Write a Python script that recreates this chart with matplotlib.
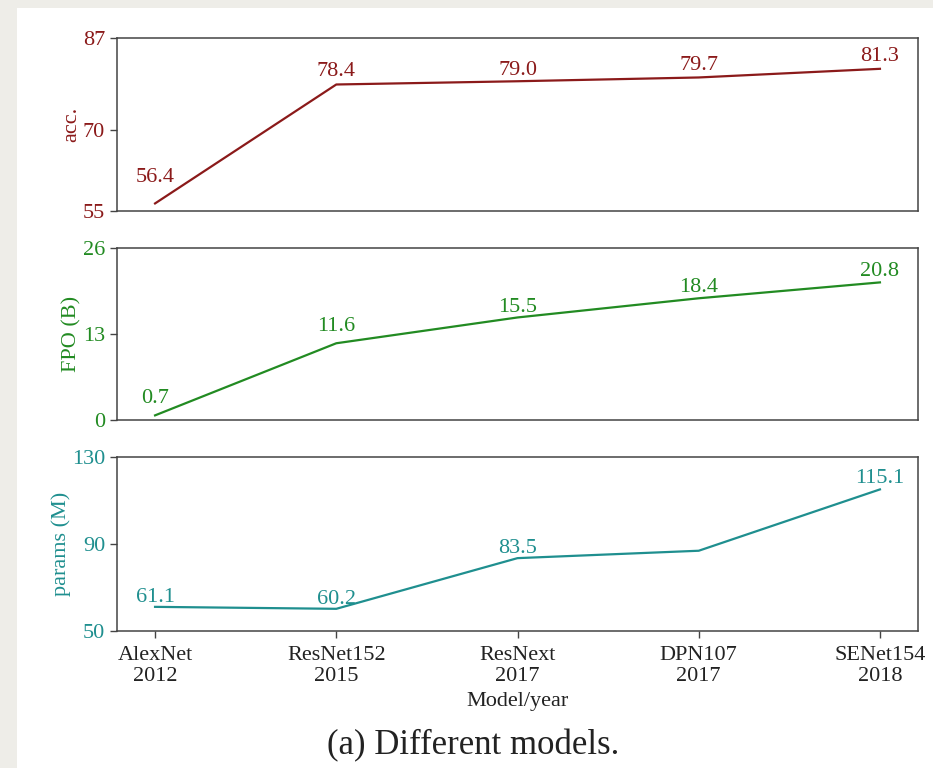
import matplotlib
matplotlib.use("Agg")
import matplotlib.pyplot as plt
from matplotlib.patches import Rectangle

plt.rcParams['font.family'] = ['Liberation Serif', 'DejaVu Serif']
plt.rcParams['font.size'] = 16

models = ['AlexNet\n2012', 'ResNet152\n2015', 'ResNext\n2017', 'DPN107\n2017', 'SENet154\n2018']
acc = [56.4, 78.4, 79.0, 79.7, 81.3]
fpo = [0.7, 11.6, 15.5, 18.4, 20.8]
params = [61.1, 60.2, 83.5, 86.9, 115.1]
params_shown = [True, True, True, False, True]

acc_ticks = [55, 70, 87]
fpo_ticks = [0, 13, 26]
params_ticks = [50, 90, 130]

c_acc = '#8b1a1a'
c_fpo = '#228b22'
c_par = '#1f8f8f'

fig = plt.figure(figsize=(9.33, 7.68), dpi=100, facecolor='#eeede8')
fig.patches.append(Rectangle((17 / 933, 0), 1, 760 / 768, transform=fig.transFigure,
                             facecolor='white', edgecolor='none', zorder=-10))

left, width = 117 / 933, 801 / 933
ax1 = fig.add_axes([left, 557 / 768, width, 173 / 768])
ax2 = fig.add_axes([left, 348 / 768, width, 172 / 768])
ax3 = fig.add_axes([left, 137 / 768, width, 174 / 768])

x = list(range(len(models)))


def panel(ax, vals, ticks, color, ylabel, lifts, shown=None):
    ax.plot(x, vals, color=color, lw=1.6)
    ax.set_ylim(ticks[0], ticks[-1])
    ax.set_yticks(ticks)
    ax.set_xlim(-0.21, 4.21)
    ax.set_ylabel(ylabel, color=color, labelpad=1)
    ax.tick_params(axis='y', colors='#444444', labelcolor=color, length=5, width=1)
    for s in ax.spines.values():
        s.set_color('#444444')
        s.set_linewidth(1.1)
    for i, v in enumerate(vals):
        if shown is not None and not shown[i]:
            continue
        ax.annotate('%.1f' % v, (i, v), xytext=(0, lifts[i]), textcoords='offset points',
                    ha='center', va='center', color=color, fontsize=16)


panel(ax1, acc, acc_ticks, c_acc, 'acc.', [19, 9, 8, 8.5, 9])
panel(ax2, fpo, fpo_ticks, c_fpo, 'FPO (B)', [12, 12, 7, 8, 8])
panel(ax3, params, params_ticks, c_par, 'params (M)', [7, 7, 7, 7, 8], params_shown)

for ax in (ax1, ax2):
    ax.set_xticks([])
ax3.set_xticks(x)
ax3.set_xticklabels(models, linespacing=1.15)
ax3.tick_params(axis='x', colors='#444444', labelcolor='#222222', length=5, width=1, pad=6)
ax3.set_xlabel('Model/year', color='#222222', labelpad=4)

fig.text(473 / 933, 1 - 746 / 768, '(a) Different models.', ha='center', va='center',
         fontsize=25, color='#222222')

fig.savefig('out.png', dpi=100, facecolor=fig.get_facecolor())
